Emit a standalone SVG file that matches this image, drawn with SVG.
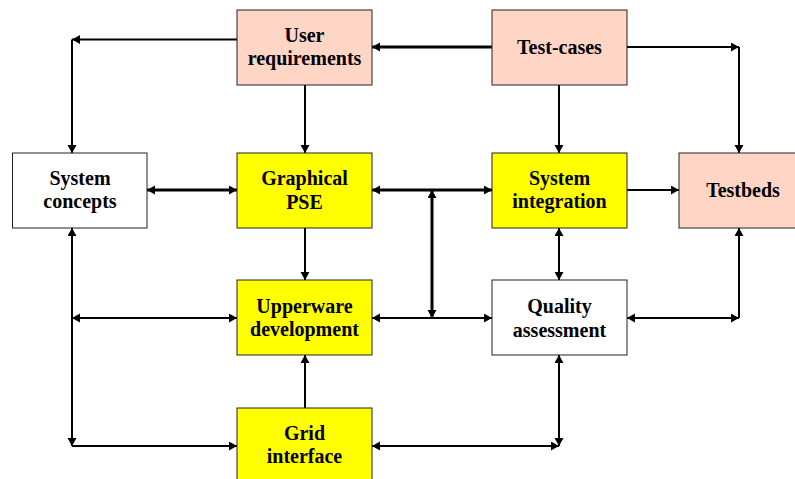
<svg xmlns="http://www.w3.org/2000/svg" width="795" height="479" viewBox="0 0 795 479">
<style>
.box{stroke:#222;stroke-width:1}
.pink{fill:#FFD5C6}
.yellow{fill:#FFFF00}
.white{fill:#FFFFFF}
text{font-family:"Liberation Serif","Times New Roman",serif;font-weight:bold;font-size:20px;fill:#000;text-anchor:middle}
.c{stroke:#000;stroke-width:2;fill:none}
.t{stroke-width:3}
.e{marker-end:url(#ah)}
.b{marker-start:url(#ah);marker-end:url(#ah)}
</style>
<defs>
<marker id="ah" markerUnits="userSpaceOnUse" markerWidth="10" markerHeight="10" refX="8" refY="4.5" orient="auto-start-reverse" viewBox="0 0 10 10">
<path d="M0,0 L8,4.5 L0,9 z" fill="#000"/>
</marker>
</defs>
<rect width="795" height="479" fill="#fff"/>
<g id="connectors">
<line class="c e" x1="237" y1="39.5" x2="72" y2="39.5"/>
<line class="c e" x1="72" y1="39.5" x2="72" y2="153"/>
<line class="c t e" x1="492" y1="47" x2="372" y2="47"/>
<line class="c e" x1="627" y1="47" x2="739" y2="47"/>
<line class="c e" x1="739" y1="47" x2="739" y2="153"/>
<line class="c e" x1="305" y1="85" x2="305" y2="153"/>
<line class="c e" x1="559" y1="85" x2="559" y2="153"/>
<line class="c t b" x1="147" y1="190" x2="237" y2="190"/>
<line class="c t b" x1="372" y1="190" x2="492" y2="190"/>
<line class="c t b" x1="432" y1="190" x2="432" y2="318"/>
<line class="c e" x1="627" y1="190" x2="679" y2="190"/>
<line class="c e" x1="305" y1="228" x2="305" y2="280"/>
<line class="c b" x1="559" y1="228" x2="559" y2="280"/>
<line class="c b" x1="72" y1="228" x2="72" y2="446"/>
<line class="c b" x1="72" y1="318" x2="237" y2="318"/>
<line class="c e" x1="72" y1="446" x2="237" y2="446"/>
<line class="c b" x1="372" y1="318" x2="492" y2="318"/>
<line class="c b" x1="627" y1="318" x2="739" y2="318"/>
<line class="c e" x1="739" y1="318" x2="739" y2="228"/>
<line class="c e" x1="305" y1="408" x2="305" y2="355"/>
<line class="c b" x1="372" y1="446" x2="559" y2="446"/>
<line class="c b" x1="559" y1="446" x2="559" y2="355"/>
</g>
<g id="user-requirements">
<rect class="box pink" x="237" y="10" width="135" height="75"/>
<text x="304.5" y="42">User</text>
<text x="304.5" y="65">requirements</text>
</g>
<g id="test-cases">
<rect class="box pink" x="492" y="10" width="135" height="75"/>
<text x="559.5" y="54">Test-cases</text>
</g>
<g id="system-concepts">
<rect class="box white" x="12.5" y="153" width="134.5" height="75"/>
<text x="80" y="185">System</text>
<text x="80" y="208">concepts</text>
</g>
<g id="graphical-pse">
<rect class="box yellow" x="237" y="153" width="135" height="75"/>
<text x="304.5" y="185">Graphical</text>
<text x="304.5" y="209">PSE</text>
</g>
<g id="system-integration">
<rect class="box yellow" x="492" y="153" width="135" height="75"/>
<text x="559.5" y="185">System</text>
<text x="559.5" y="208">integration</text>
</g>
<g id="testbeds">
<rect class="box pink" x="679" y="153" width="128" height="75"/>
<text x="743" y="197">Testbeds</text>
</g>
<g id="upperware-development">
<rect class="box yellow" x="237" y="280" width="135" height="75"/>
<text x="304.5" y="313">Upperware</text>
<text x="304.5" y="336">development</text>
</g>
<g id="quality-assessment">
<rect class="box white" x="492" y="280" width="135" height="75"/>
<text x="559.5" y="313">Quality</text>
<text x="559.5" y="337">assessment</text>
</g>
<g id="grid-interface">
<rect class="box yellow" x="237" y="408" width="135" height="75"/>
<text x="304.5" y="440">Grid</text>
<text x="304.5" y="463">interface</text>
</g>
</svg>
